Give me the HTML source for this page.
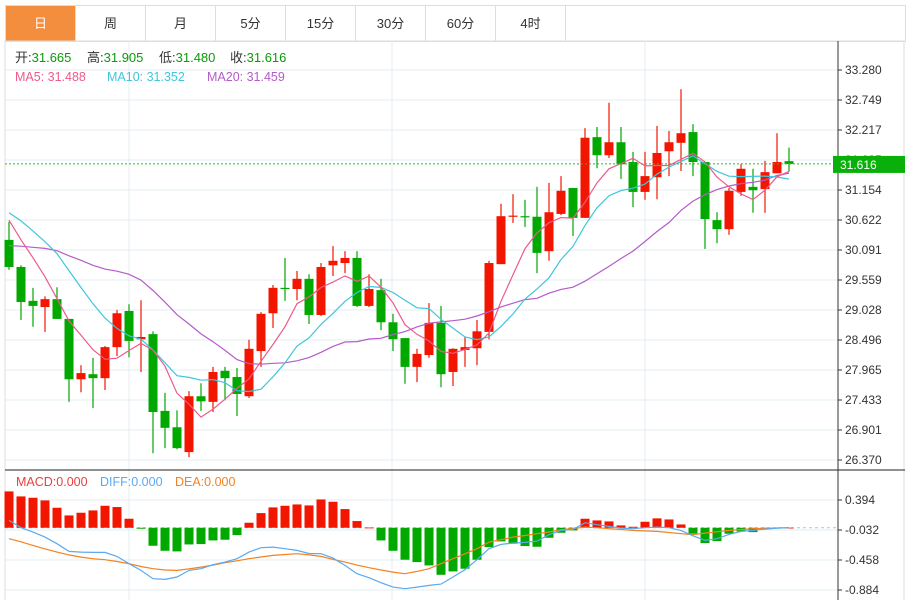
<!DOCTYPE html>
<html><head><meta charset="utf-8">
<style>
body{margin:0;background:#fff;font-family:"Liberation Sans","Noto Sans CJK SC",sans-serif;}
#wrap{position:relative;width:909px;height:600px;overflow:hidden;}
.tabs{position:absolute;left:5px;top:5px;width:899px;height:35px;border:1px solid #ddd;display:flex;}
.tab{width:69px;height:35px;border-right:1px solid #ddd;text-align:center;line-height:35px;font-size:13px;color:#333;}
.tab.on{background:#f38e3f;color:#fff;}
</style></head><body>
<div id="wrap">
<div class="tabs">
<div class="tab on">日</div>
<div class="tab">周</div>
<div class="tab">月</div>
<div class="tab">5分</div>
<div class="tab">15分</div>
<div class="tab">30分</div>
<div class="tab">60分</div>
<div class="tab">4时</div>
</div>
<svg id="svg" width="909" height="600" style="position:absolute;left:0;top:0" font-family="Liberation Sans, Noto Sans CJK SC, sans-serif"></svg>
</div>
<script>
const opens=[30.27,29.79,29.19,29.08,29.22,28.87,27.80,27.89,27.82,28.37,29.01,28.51,28.60,27.24,26.95,26.51,27.50,27.40,27.95,27.84,27.50,28.30,28.97,29.42,29.40,29.58,28.94,29.82,29.86,29.95,29.10,29.38,28.81,28.53,28.02,28.23,28.80,27.93,28.32,28.35,28.64,29.84,30.69,30.69,30.68,30.07,30.73,31.19,30.66,32.09,31.77,32.00,31.65,31.12,31.38,31.84,31.99,32.18,31.65,30.62,30.46,31.12,31.21,31.17,31.45,31.665];
const closes=[29.79,29.17,29.10,29.22,28.87,27.80,27.91,27.82,28.37,28.97,28.48,28.55,27.22,26.94,26.58,27.50,27.41,27.93,27.82,27.54,28.34,28.96,29.42,29.40,29.58,28.94,29.79,29.90,29.95,29.10,29.40,28.81,28.51,28.02,28.25,28.80,27.89,28.34,28.37,28.65,29.86,30.69,30.70,30.68,30.04,30.76,31.14,30.66,32.08,31.77,32.00,31.61,31.12,31.40,31.81,32.00,32.16,31.65,30.64,30.46,31.14,31.53,31.15,31.47,31.65,31.616];
const highs=[30.59,29.82,29.42,29.27,29.43,28.87,28.05,28.18,28.39,29.03,29.13,29.20,28.65,27.56,27.25,27.59,27.73,28.02,28.02,28.00,28.50,28.99,29.47,29.95,29.72,29.66,29.86,30.16,30.07,30.07,29.66,29.58,28.96,28.53,28.34,29.15,29.10,28.35,28.55,28.85,29.90,30.91,31.08,30.98,31.21,31.28,31.40,31.19,32.25,32.27,32.70,32.27,31.83,31.83,32.29,32.20,32.94,32.32,31.65,30.76,31.19,31.61,31.53,31.67,32.16,31.905];
const lows=[29.74,28.85,28.73,28.64,28.87,27.40,27.57,27.29,27.61,28.21,28.19,27.93,26.49,26.58,26.56,26.42,27.24,27.22,27.43,27.15,27.47,28.02,28.71,29.19,29.20,28.78,28.92,29.63,29.68,29.08,29.08,28.67,28.30,27.72,27.75,28.18,27.66,27.68,28.02,28.05,28.51,29.84,30.57,30.50,29.68,29.90,30.71,30.34,30.66,31.54,31.72,31.35,30.85,30.98,30.99,31.40,31.49,31.40,30.11,30.21,30.36,31.05,30.75,30.75,31.45,31.48];
const priorCloses=[29.4,29.5,29.6,29.7,29.6,29.5,29.6,29.7,29.7,29.6,30.6,30.9,31.1,31.0,30.8,30.9,30.7,30.9,30.8];
const macdHist=[0.516,0.445,0.426,0.388,0.284,0.175,0.213,0.246,0.312,0.294,0.128,-0.014,-0.256,-0.327,-0.336,-0.237,-0.232,-0.180,-0.170,-0.104,0.071,0.208,0.289,0.312,0.331,0.317,0.402,0.369,0.265,0.095,0.003,-0.180,-0.327,-0.454,-0.488,-0.535,-0.668,-0.620,-0.582,-0.454,-0.275,-0.194,-0.227,-0.260,-0.270,-0.142,-0.071,-0.038,0.128,0.104,0.090,0.033,0.014,0.085,0.133,0.118,0.047,-0.085,-0.218,-0.189,-0.085,-0.052,-0.062,-0.019,-0.009,0.001];
const diffVals=[0.104,0,-0.062,-0.133,-0.227,-0.336,-0.346,-0.35,-0.35,-0.407,-0.511,-0.606,-0.724,-0.734,-0.700,-0.606,-0.582,-0.525,-0.488,-0.440,-0.346,-0.284,-0.275,-0.298,-0.322,-0.365,-0.369,-0.431,-0.535,-0.653,-0.710,-0.781,-0.843,-0.866,-0.843,-0.819,-0.800,-0.700,-0.596,-0.454,-0.298,-0.237,-0.218,-0.208,-0.189,-0.099,-0.038,-0.024,0.071,0.043,0.019,-0.005,-0.014,0,0.009,0,-0.038,-0.114,-0.180,-0.156,-0.095,-0.052,-0.038,-0.019,-0.005,0];
const deaVals=[-0.156,-0.20,-0.251,-0.30,-0.346,-0.385,-0.417,-0.44,-0.454,-0.48,-0.511,-0.55,-0.582,-0.60,-0.606,-0.585,-0.559,-0.53,-0.497,-0.47,-0.44,-0.415,-0.393,-0.38,-0.369,-0.385,-0.407,-0.45,-0.488,-0.53,-0.568,-0.60,-0.63,-0.653,-0.62,-0.582,-0.51,-0.44,-0.37,-0.298,-0.204,-0.17,-0.133,-0.11,-0.085,-0.06,-0.028,-0.01,0.009,0,-0.014,-0.025,-0.038,-0.045,-0.052,-0.068,-0.085,-0.099,-0.076,-0.058,-0.038,-0.025,-0.014,-0.008,-0.003,0];
const priceTicks=["33.280","32.749","32.217","31.685","31.154","30.622","30.091","29.559","29.028","28.496","27.965","27.433","26.901","26.370"];
const macdTicks=["0.394","-0.032","-0.458","-0.884"];

const svg=document.getElementById('svg');
const NS='http://www.w3.org/2000/svg';
function mk(tag,attrs,parent){const e=document.createElementNS(NS,tag);for(const k in attrs)e.setAttribute(k,attrs[k]);(parent||svg).appendChild(e);return e;}
const PMAX=33.28,PMIN=26.37,PT=70,PB=460;
const py=v=>PT+(PMAX-v)*(PB-PT)/(PMAX-PMIN);
const MMAX=0.394,MMIN=-0.884,MT=500,MB=590;
const my=v=>MT+(MMAX-v)*(MB-MT)/(MMAX-MMIN);
const xs=i=>9+12*i;
const RED='#f21600',GREEN='#00a800';

let e;
e=mk('rect',{x:5,y:41,width:899,height:560,fill:'none',stroke:'#ddd'});

[129,392,645].forEach(x=>{e=mk('line',{x1:x,y1:41,x2:x,y2:600,stroke:'#e3ecf3'});});
priceTicks.forEach((t,i)=>{const y=PT+i*30;
 e=mk('line',{x1:5,y1:y,x2:838,y2:y,stroke:'#e3ecf3'});
 e=mk('line',{x1:838,y1:y,x2:842,y2:y,stroke:'#333'});
 e=mk('text',{x:845,y:y+4,'font-size':12,fill:'#333'});e.textContent=t;});
e=mk('line',{x1:5,y1:470,x2:905,y2:470,stroke:'#222'});
macdTicks.forEach((t,i)=>{const y=MT+i*30;
 e=mk('line',{x1:5,y1:y,x2:838,y2:y,stroke:'#e3ecf3'});
 e=mk('line',{x1:838,y1:y,x2:842,y2:y,stroke:'#333'});
 e=mk('text',{x:845,y:y+4,'font-size':12,fill:'#333'});e.textContent=t;});
e=mk('line',{x1:838,y1:41,x2:838,y2:600,stroke:'#333'});
e=mk('line',{x1:5,y1:my(0),x2:838,y2:my(0),stroke:'#9cc9e0','stroke-dasharray':'3,3'});

for(let i=0;i<closes.length;i++){
 const up=closes[i]>=opens[i];const c=up?RED:GREEN;const x=xs(i);
 e=mk('line',{x1:x,y1:py(highs[i]),x2:x,y2:py(lows[i]),stroke:c,'stroke-width':1.2});
 
 const t=py(Math.max(opens[i],closes[i])),b=py(Math.min(opens[i],closes[i]));
 e=mk('rect',{x:x-4.5,y:t,width:9,height:Math.max(1.2,b-t),fill:c});
 
}
const all=priorCloses.concat(closes);
function ma(n){const r=[];for(let i=0;i<closes.length;i++){const j=i+priorCloses.length;let s=0;for(let k=j-n+1;k<=j;k++)s+=all[k];r.push(s/n);}return r;}
function poly(vals,yf,color,name){const p=vals.map((v,i)=>xs(i)+','+yf(v).toFixed(1)).join(' ');
 const el=mk('polyline',{points:p,fill:'none',stroke:color,'stroke-width':1.2});return el;}
poly(ma(20),py,'#b55bc9','ma20-line');
poly(ma(10),py,'#3fc6dc','ma10-line');
poly(ma(5),py,'#ee5a8a','ma5-line');

const last=closes[closes.length-1];
e=mk('line',{x1:5,y1:py(last),x2:838,y2:py(last),stroke:'#2fb52f','stroke-dasharray':'2,2'});
e=mk('rect',{x:833,y:py(last)-8,width:72,height:17,fill:'#0ab00a'});
e=mk('text',{x:840,y:py(last)+5,'font-size':12,fill:'#fff'});e.textContent=last.toFixed(3);

for(let i=0;i<macdHist.length;i++){const v=macdHist[i];const y0=my(0),y1=my(v);
 e=mk('rect',{x:xs(i)-4.5,y:Math.min(y0,y1),width:9,height:Math.max(0.8,Math.abs(y1-y0)),fill:v>=0?RED:GREEN});
 }
poly(deaVals,my,'#f5811f','dea-line');
poly(diffVals,my,'#5aaaf0','diff-line');

function txt(x,y,s,c,name,fs){const t=mk('text',{x:x,y:y,'font-size':fs||12.5,fill:c});t.textContent=s;return t;}
function ohlc(x,label,val,name){const t=mk('text',{x:x,y:62,'font-size':13,fill:'#333'});
 const a=mk('tspan',{},t);a.textContent=label;const b=mk('tspan',{fill:'#0a9a0a'},t);b.textContent=val;}
ohlc(15,'开:','31.665','open-legend');
ohlc(87,'高:','31.905','high-legend');
ohlc(159,'低:','31.480','low-legend');
ohlc(230,'收:','31.616','close-legend');
txt(15,81,'MA5: 31.488','#ee5a8a','ma5-legend');
txt(107,81,'MA10: 31.352','#3fc6dc','ma10-legend');
txt(207,81,'MA20: 31.459','#b55bc9','ma20-legend');
txt(16,486,'MACD:0.000','#e8413c','macd-legend');
txt(100,486,'DIFF:0.000','#5aaaf0','diff-legend');
txt(175,486,'DEA:0.000','#f5811f','dea-legend');
</script>
</body></html>
